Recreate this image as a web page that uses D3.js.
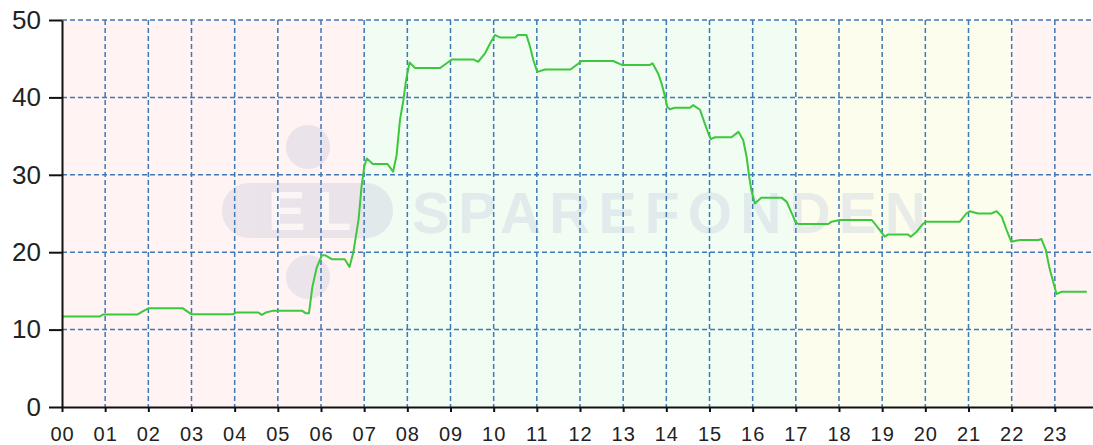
<!DOCTYPE html>
<html>
<head>
<meta charset="utf-8">
<script src="https://cdn.jsdelivr.net/npm/d3@7"></script>
<style>
  body { margin: 0; background: #fff; }
  svg { display: block; }
</style>
</head>
<body>
<svg id="chart" width="1093" height="445"></svg>
<script>
// price over the day, hour (decimal) and value
var hours = [0.00, 0.88, 0.95, 1.74, 1.85, 2.00, 2.80, 3.00, 3.96, 4.02, 4.55, 4.63, 4.72, 4.90, 5.56, 5.65, 5.72, 5.80, 5.90,
  6.02, 6.10, 6.25, 6.55, 6.66, 6.75, 6.87, 6.94, 7.00, 7.06, 7.20, 7.54, 7.67, 7.75, 7.83, 7.91, 7.97,
  8.05, 8.18, 8.76, 9.03, 9.53, 9.64, 9.80, 9.92, 10.03, 10.15, 10.50, 10.56, 10.76, 10.84, 10.92,
  11.01, 11.19, 11.78, 12.04, 12.77, 12.97, 13.62, 13.68, 13.81, 13.89, 13.97, 14.02, 14.08, 14.20,
  14.55, 14.62, 14.78, 14.89, 14.97, 15.03, 15.13, 15.51, 15.67, 15.78, 15.86, 15.92, 15.97, 16.05,
  16.20, 16.67, 16.79, 16.94, 16.99, 17.06, 17.75, 17.83, 18.02, 18.76, 18.91, 19.06, 19.14, 19.60,
  19.66, 19.80, 19.95, 20.03, 20.80, 20.95, 21.03, 21.22, 21.53, 21.65, 21.77, 21.88, 21.99, 22.19,
  22.62, 22.69, 22.79, 22.87, 22.95, 23.04, 23.16, 23.74];
var values = [11.7, 11.7, 11.95, 11.95, 12.3, 12.75, 12.75, 11.97, 11.97, 12.2, 12.2, 11.9, 12.2, 12.45, 12.45, 12.1, 12.1, 15.5, 18.0,
  19.6, 19.6, 19.1, 19.1, 18.1, 20.0, 24.2, 28.5, 31.0, 32.1, 31.4, 31.4, 30.4, 32.5, 37.1, 39.7, 42.2,
  44.5, 43.8, 43.8, 44.9, 44.9, 44.6, 45.7, 47.0, 48.05, 47.75, 47.75, 48.05, 48.05, 46.6, 44.8,
  43.3, 43.6, 43.6, 44.7, 44.7, 44.2, 44.2, 44.4, 43.1, 41.8, 40.1, 38.8, 38.46, 38.67,
  38.67, 39.0, 38.4, 36.65, 35.4, 34.6, 34.85, 34.85, 35.55, 34.5, 32.3, 29.75, 28.0, 26.3,
  27.05, 27.05, 26.5, 24.6, 23.9, 23.64, 23.64, 23.94, 24.16, 24.16, 23.1, 22.0, 22.3, 22.3,
  22.0, 22.65, 23.7, 23.94, 23.94, 25.0, 25.3, 25.0, 25.0, 25.3, 24.6, 22.9, 21.36, 21.58,
  21.58, 21.7, 20.3, 18.1, 16.4, 14.6, 14.9, 14.9];

var hourTicks = d3.range(0, 24);
var valueTicks = [0, 10, 20, 30, 40, 50];

// background periods
var bandStart = [0, 7, 17, 22];
var bandEnd = [7, 17, 22, 24];
var bandColor = ['#fff3f3', '#f1fcf3', '#fdfdee', '#fff3f3'];

var svg = d3.select('#chart');
var x = d3.scaleLinear().domain([0, 24]).range([62, 1098]);
var y = d3.scaleLinear().domain([0, 50]).range([407, 20]);

// bands
svg.selectAll('rect.band')
  .data(bandStart).enter().append('rect')
  .attr('class', 'band')
  .attr('x', (d, i) => x(d)).attr('y', y(50))
  .attr('width', (d, i) => x(bandEnd[i]) - x(d))
  .attr('height', y(0) - y(50))
  .attr('fill', (d, i) => bandColor[i]);

// watermark
var wm = svg.append('g').attr('fill', '#c8c8dc').attr('opacity', 0.35);
wm.append('circle').attr('cx', 308).attr('cy', 147).attr('r', 22);
wm.append('circle').attr('cx', 308).attr('cy', 277).attr('r', 22);
wm.append('rect').attr('x', 222).attr('y', 183).attr('width', 171).attr('height', 55).attr('rx', 27);
wm.append('text').attr('x', 268).attr('y', 230).attr('fill', '#fff').attr('opacity', 0.9)
  .attr('font-family', 'Liberation Sans, Arial, sans-serif').attr('font-weight', 'bold')
  .attr('font-size', 56).attr('letter-spacing', 12).text('EL');
svg.append('text').attr('x', 412).attr('y', 233)
  .attr('fill', '#cfd8e4').attr('opacity', 0.45)
  .attr('font-family', 'Liberation Sans, Arial, sans-serif').attr('font-weight', 'bold')
  .attr('font-size', 57).attr('textLength', 514).attr('lengthAdjust', 'spacing')
  .text('SPAREFONDEN');

// grid
var grid = svg.append('g').attr('stroke', '#3f78b5').attr('stroke-width', 1.5)
  .attr('stroke-dasharray', '5,3');
grid.selectAll('line.v').data(hourTicks.slice(1)).enter().append('line')
  .attr('x1', d => x(d)).attr('x2', d => x(d))
  .attr('y1', y(50)).attr('y2', y(0));
grid.selectAll('line.h').data(valueTicks.slice(1)).enter().append('line')
  .attr('x1', x(0)).attr('x2', x(24))
  .attr('y1', d => y(d)).attr('y2', d => y(d));

// the line
var pts = hours.map((h, i) => [h, values[i]]);
svg.append('path').datum(pts)
  .attr('fill', 'none').attr('stroke', '#3cc83c').attr('stroke-width', 2)
  .attr('stroke-linejoin', 'round')
  .attr('d', d3.line().x(d => x(d[0])).y(d => y(d[1])));

// axes
var yAxis = svg.append('g').attr('transform', 'translate(62,0)')
  .call(d3.axisLeft(y).tickValues(valueTicks).tickSize(13).tickPadding(8).tickSizeOuter(0));
yAxis.selectAll('text').attr('font-size', 26);

var xAxis = svg.append('g').attr('transform', 'translate(0,407)')
  .call(d3.axisBottom(x).tickValues(hourTicks).tickFormat(d3.format('02d'))
    .tickSize(5).tickPadding(15).tickSizeOuter(0));
xAxis.selectAll('text').attr('font-size', 20).attr('letter-spacing', 1);

svg.selectAll('.domain, .tick line').attr('stroke', '#111').attr('stroke-width', 2);
svg.selectAll('.tick text').attr('fill', '#222')
  .attr('font-family', 'Liberation Sans, Arial, sans-serif');
</script>
</body>
</html>
